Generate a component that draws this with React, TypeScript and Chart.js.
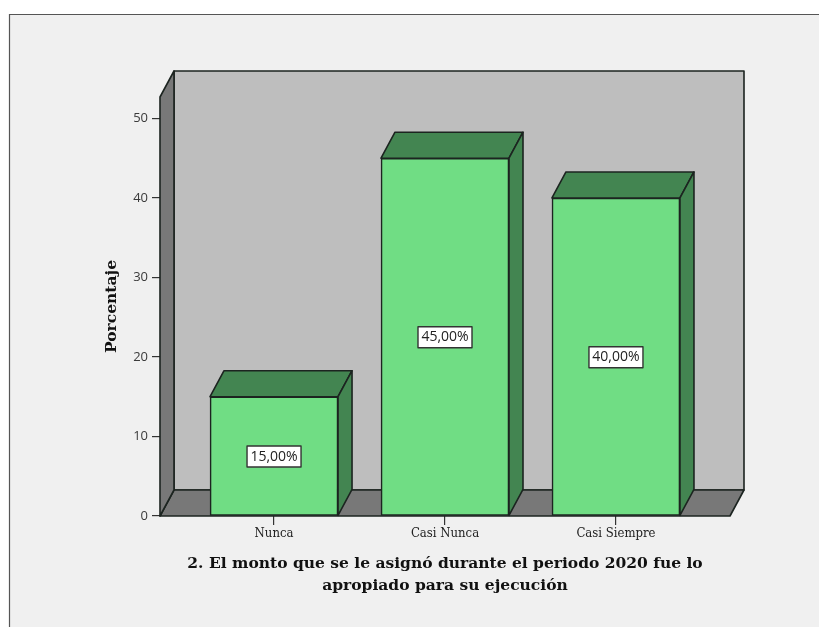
import React, { useEffect, useRef } from "react";
import { Chart, registerables } from "chart.js";

Chart.register(...registerables);

const categories = ["Nunca", "Casi Nunca", "Casi Siempre"];
const values = [15, 45, 40];
const valueLabels = ["15,00%", "45,00%", "40,00%"];
const yTicks = [0, 10, 20, 30, 40, 50];
const yTitle = "Porcentaje";
const xTitle = [
  "2. El monto que se le asignó durante el periodo 2020 fue lo",
  "apropiado para su ejecución",
];

const DX = 14;
const DY = 26;
const INK = "#1c2420";

function poly(ctx: CanvasRenderingContext2D, pts: number[][], fill: string, lw = 1.6) {
  ctx.beginPath();
  pts.forEach(([x, y], i) => (i ? ctx.lineTo(x, y) : ctx.moveTo(x, y)));
  ctx.closePath();
  ctx.fillStyle = fill;
  ctx.fill();
  ctx.lineWidth = lw;
  ctx.strokeStyle = INK;
  ctx.lineJoin = "round";
  ctx.stroke();
}

const box3d = {
  id: "box3d",
  beforeDraw(chart: any) {
    const { ctx, width, height } = chart;
    ctx.save();
    ctx.fillStyle = "#ffffff";
    ctx.fillRect(0, 0, width, height);
    ctx.fillStyle = "#f0f0f0";
    ctx.fillRect(9, 14, width, height);
    ctx.strokeStyle = "#555555";
    ctx.lineWidth = 1.2;
    ctx.beginPath();
    ctx.moveTo(9.5, height);
    ctx.lineTo(9.5, 14.5);
    ctx.lineTo(width, 14.5);
    ctx.stroke();
    ctx.restore();
  },
  beforeDatasetsDraw(chart: any) {
    const { ctx, chartArea: a } = chart;
    ctx.save();
    poly(ctx, [[a.left + DX, a.top - DY], [a.right + DX, a.top - DY], [a.right + DX, a.bottom - DY], [a.left + DX, a.bottom - DY]], "#bebebe");
    poly(ctx, [[a.left, a.bottom], [a.left + DX, a.bottom - DY], [a.right + DX, a.bottom - DY], [a.right, a.bottom]], "#787878");
    poly(ctx, [[a.left, a.bottom], [a.left, a.top], [a.left + DX, a.top - DY], [a.left + DX, a.bottom - DY]], "#787878");
    ctx.restore();
  },
  afterDatasetsDraw(chart: any) {
    const { ctx } = chart;
    const meta = chart.getDatasetMeta(0);
    ctx.save();
    meta.data.forEach((bar: any, i: number) => {
      const half = bar.width / 2;
      const l = bar.x - half;
      const r = bar.x + half;
      const t = bar.y;
      const b = bar.base;
      poly(ctx, [[l, t], [l + DX, t - DY], [r + DX, t - DY], [r, t]], "#438551");
      poly(ctx, [[r, t], [r + DX, t - DY], [r + DX, b - DY], [r, b]], "#438551");
      ctx.font = '14px "Open Sans", sans-serif';
      ctx.textAlign = "center";
      ctx.textBaseline = "middle";
      const cy = (t + b) / 2 + 0.5;
      const w = 54;
      const h = 21;
      ctx.fillStyle = "#ffffff";
      ctx.fillRect(bar.x - w / 2, cy - h / 2, w, h);
      ctx.strokeStyle = "#333333";
      ctx.lineWidth = 1.4;
      ctx.strokeRect(bar.x - w / 2, cy - h / 2, w, h);
      ctx.fillStyle = "#222222";
      ctx.fillText(valueLabels[i], bar.x, cy);
    });
    ctx.restore();
  },
};

export default function App() {
  const ref = useRef<HTMLCanvasElement>(null);
  useEffect(() => {
    const chart = new Chart(ref.current as HTMLCanvasElement, {
      type: "bar",
      data: {
        labels: categories,
        datasets: [
          {
            data: values.map((y, x) => ({ x, y })),
            backgroundColor: "#70dd84",
            borderColor: INK,
            borderWidth: 1.6,
            borderSkipped: false,
            barThickness: 128,
          },
        ],
      },
      plugins: [box3d],
      options: {
        animation: false,
        responsive: false,
        layout: { padding: { top: 97, right: 89, left: 0, bottom: 0 } },
        plugins: { legend: { display: false }, tooltip: { enabled: false } },
        scales: {
          x: {
            type: "linear",
            offset: false,
            min: -0.667,
            max: 2.667,
            afterBuildTicks: (s: any) => {
              s.ticks = categories.map((_, value) => ({ value }));
            },
            afterFit: (s: any) => {
              s.height = 111;
            },
            grid: { display: true, offset: false, drawOnChartArea: false, tickLength: 9, color: "#333333", lineWidth: 1.2 },
            border: { display: false },
            ticks: {
              autoSkip: false,
              maxRotation: 0,
              padding: 1,
              color: "#222222",
              font: { family: '"DejaVu Serif Condensed", "DejaVu Serif", serif', size: 13 },
              callback: (v: any) => categories[v],
            },
            title: {
              display: true,
              text: xTitle,
              color: "#111111",
              font: { family: '"DejaVu Serif", serif', size: 15.5, weight: "bold", lineHeight: 1.42 },
              padding: { top: 6, bottom: 30 },
            },
          },
          y: {
            min: 0,
            max: 52.7,
            afterBuildTicks: (s: any) => {
              s.ticks = yTicks.map((value) => ({ value }));
            },
            afterFit: (s: any) => {
              s.width = 160;
            },
            grid: { display: true, drawOnChartArea: false, tickLength: 8, color: "#333333", lineWidth: 1.2 },
            border: { display: false },
            ticks: {
              padding: 4,
              color: "#3a3a3a",
              font: { family: '"Open Sans", sans-serif', size: 13 },
              callback: (v: any) => String(v),
            },
            title: {
              display: true,
              text: yTitle,
              color: "#111111",
              font: { family: '"DejaVu Serif", serif', size: 15.5, weight: "bold" },
              padding: { top: 103, bottom: 0 },
            },
          },
        },
      },
    } as any);
    return () => chart.destroy();
  }, []);
  return (
    <canvas
      ref={ref}
      width={819}
      height={627}
      style={{ position: "absolute", left: 0, top: 0, width: 819, height: 627 }}
    />
  );
}
